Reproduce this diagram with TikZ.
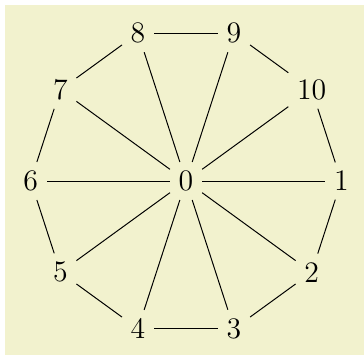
\documentclass[tikz,border=0pt]{standalone}
\usepackage{tikz}
\usetikzlibrary{positioning,calc}
\usepackage{xcolor}
\definecolor{paleback}{RGB}{242,242,206}

\begin{document}
\begin{tikzpicture}[
  vert/.style={inner sep=3.33pt, font=\large},
  spoke/.style={draw=black, thin}
]
\useasboundingbox (-2.635,-2.465) rectangle (2.521,2.564);
\fill[paleback] (-2.56,-2.465) rectangle (2.521,2.49);
\node[vert] (n0) at (0,0) {0};
\foreach \k in {1,...,10}{
  \node[vert] (n\k) at ({-(\k-1)*36}:2.2) {\k};
}
\foreach \k in {1,...,10}{
  \draw[spoke] (n0) -- (n\k);
}
\foreach \k [remember=\k as \prev (initially 10)] in {1,...,10}{
  \draw[spoke] (n\prev) -- (n\k);
}
\end{tikzpicture}
\end{document}
